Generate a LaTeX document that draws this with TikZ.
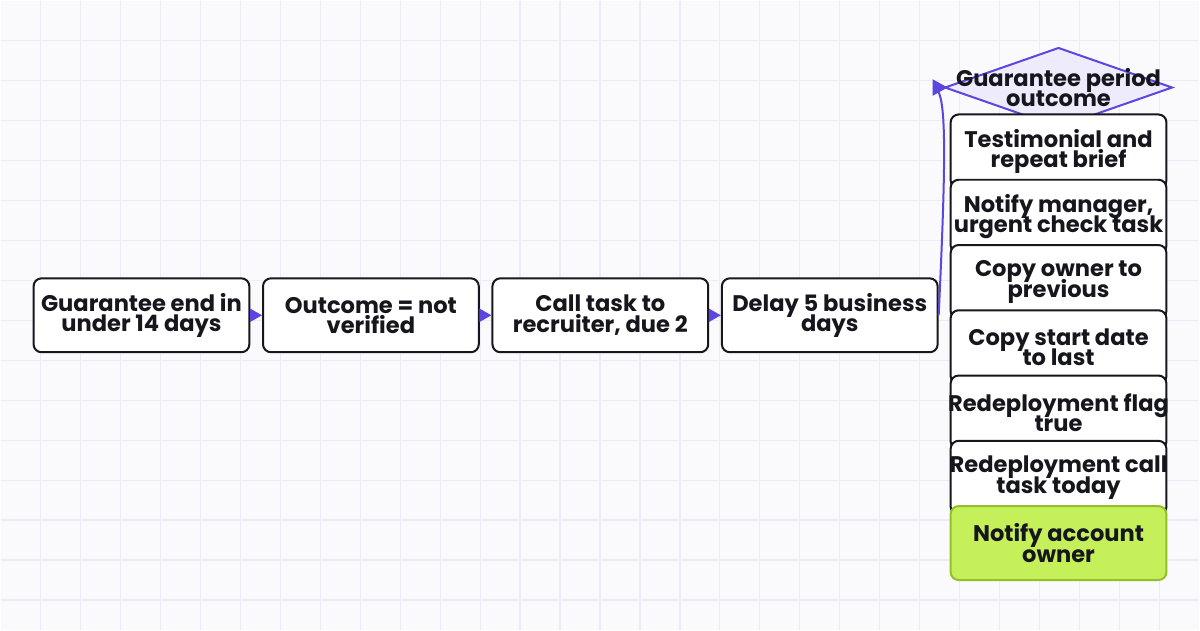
\documentclass[tikz,border=0pt]{standalone}
\usepackage{fontspec}
\setmainfont{Poppins}
\usetikzlibrary{arrows.meta,shapes.geometric}
\definecolor{ink}{HTML}{16161D}
\definecolor{flow}{HTML}{5B46E0}
\definecolor{flowfill}{HTML}{EEEBFD}
\definecolor{lime}{HTML}{C6F05A}
\definecolor{limeedge}{HTML}{95BE2B}
\definecolor{paper}{HTML}{FAFAFD}
\definecolor{gridc}{HTML}{EDEBF8}
\newcommand{\boxfont}{\bfseries\fontsize{11.3}{10.2}\selectfont\lineskiplimit=-8pt\relax}
\tikzset{
  stepbox/.style={draw=ink, line width=1pt, rounded corners=4pt, fill=white,
    minimum width=108pt, minimum height=37pt, inner xsep=-4pt, inner ysep=0pt,
    align=center, text=ink, font=\boxfont},
  donebox/.style={stepbox, draw=limeedge, fill=lime},
  decision/.style={diamond, draw=flow, fill=flowfill, line width=1pt,
    minimum width=114pt, minimum height=40pt, inner sep=0pt},
  flowarrow/.style={draw=flow, line width=1pt, -{Triangle[length=6pt,width=6.5pt]}},
  gridline/.style={draw=gridc, line width=0.6pt}
}

\begin{document}
\begin{tikzpicture}[x=0.5pt,y=-0.5pt]
\fill [paper] (0,0) rectangle (1200,630);
\foreach \x in {40,80,...,1160}
	\draw [gridline] (\x,0) -- (\x,630);
\foreach \y in {40,80,...,600}
	\draw [gridline] (0,\y) -- (1200,\y);

% trigger row
\foreach \i/\txt in {0/{Guarantee end in\\under 14 days}, 1/{Outcome = not\\verified},
	2/{Call task to\\recruiter, due 2}, 3/{Delay 5 business\\days}}
	\node [stepbox] (r\i) at ({141+229.67*\i},315) {\txt};
\foreach \i in {0,1,2} {
	\pgfmathtruncatemacro{\j}{\i+1}
	\draw [flowarrow] (r\i) -- (r\j);
}

% decision and its branch
\node [decision, label={[stepbox, draw=none, fill=none]center:{Guarantee period\\outcome}}]
	(outcome) at (1059,87) {};
\draw [flowarrow, -{Triangle[length=7.5pt,width=8pt]}]
	(r3.east) .. controls +(8,-170) and +(-1,0) .. ([xshift=2pt]outcome.west);
\foreach \i/\txt in {0/{Testimonial and\\repeat brief}, 1/{Notify manager,\\urgent check task},
	2/{Copy owner to\\previous}, 3/{Copy start date\\to last}, 4/{Redeployment flag\\true},
	5/{Redeployment call\\task today}}
	\node [stepbox] (c\i) at (1059,{151+65.33*\i}) {\txt};
\node [donebox] (c6) at (1059,543) {Notify account\\owner};
\end{tikzpicture}
\end{document}
